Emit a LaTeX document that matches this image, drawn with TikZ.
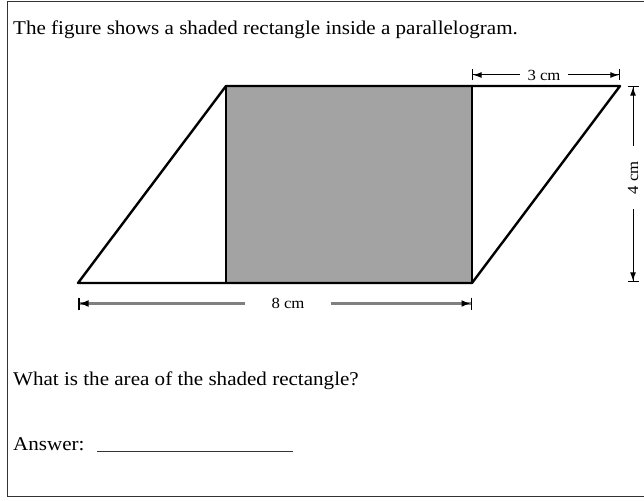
\documentclass[tikz,border=0pt]{standalone}
\usepackage{fontspec}
\setmainfont{Liberation Serif}
\usetikzlibrary{arrows.meta}
\begin{document}
\begin{tikzpicture}[x=1pt,y=-1pt,
  txt/.style={font=\fontsize{19.5}{23}\selectfont, anchor=base west, inner sep=0pt},
  dimlab/.style={font=\fontsize{15.5}{18}\selectfont, inner ysep=0pt},
  pedge/.style={line width=2.4pt, line join=round, line cap=round},
  redge/.style={line width=1.2pt},
  dimthin/.style={line width=1pt, -{Latex[length=8.5pt,width=6pt]Bar[width=11pt,line width=1.2pt]}},
  dimthick/.style={line width=3pt, draw=black!50, -{Latex[length=9pt,width=7pt,black]Bar[width=12pt,line width=1.5pt,black]}},
]
\useasboundingbox (0,0) rectangle (644,500);
% frame
\draw[line width=1.5pt, black!80] (644,1.5) -- (7.5,1.5) -- (7.5,496.5) -- (644,496.5);

% texts
\node[txt] (title) at (13,35) {\scalebox{1.08}[1]{The figure shows a shaded rectangle inside a parallelogram.}};
\node[txt] (question) at (13,385) {\scalebox{1.08}[1]{What is the area of the shaded rectangle?}};
\node[txt] (answer) at (13,450) {\scalebox{1.08}[1]{Answer:}};
\coordinate (u1) at (97,451);
\coordinate (u2) at (293,451);
\draw[line width=0.9pt, black!80] (u1) -- (u2);

% parallelogram and rectangle
\coordinate (A) at (78,283);
\coordinate (E) at (226,283);
\coordinate (B) at (472,283);
\coordinate (C) at (620,86);
\coordinate (F) at (472,86);
\coordinate (D) at (226,86);
\fill[black!36] (D) rectangle (B);
\draw[redge] (D) -- (E);
\draw[redge] (F) -- (B);
\draw[pedge] (A) -- (B) -- (C) -- (D) -- cycle;

% top dimension (3 cm)
\coordinate (t1) at (472,75);
\coordinate (t2) at (620,75);
\node[dimlab, inner xsep=7.5pt] (l3) at (544,75) {\scalebox{1.08}[1]{3 cm}};
\draw[dimthin] (l3.west) -- (t1);
\draw[dimthin] (l3.east) -- (t2);

% right dimension (4 cm)
\coordinate (r1) at (633,86);
\coordinate (r2) at (633,282);
\node[dimlab, inner xsep=15pt, rotate=90] (l4) at (633,177.5) {\scalebox{1.08}[1]{4 cm}};
\draw[dimthin] (l4.east) -- (r1);
\draw[dimthin] (l4.west) -- (r2);

% bottom dimension (8 cm)
\coordinate (b1) at (78,303.5);
\coordinate (b2) at (472,303.5);
\node[dimlab, inner xsep=26pt] (l8) at (288,303.5) {\scalebox{1.08}[1]{8 cm}};
\draw[dimthick] (l8.west) -- (b1);
\draw[dimthick] (l8.east) -- (b2);
\end{tikzpicture}
\end{document}
